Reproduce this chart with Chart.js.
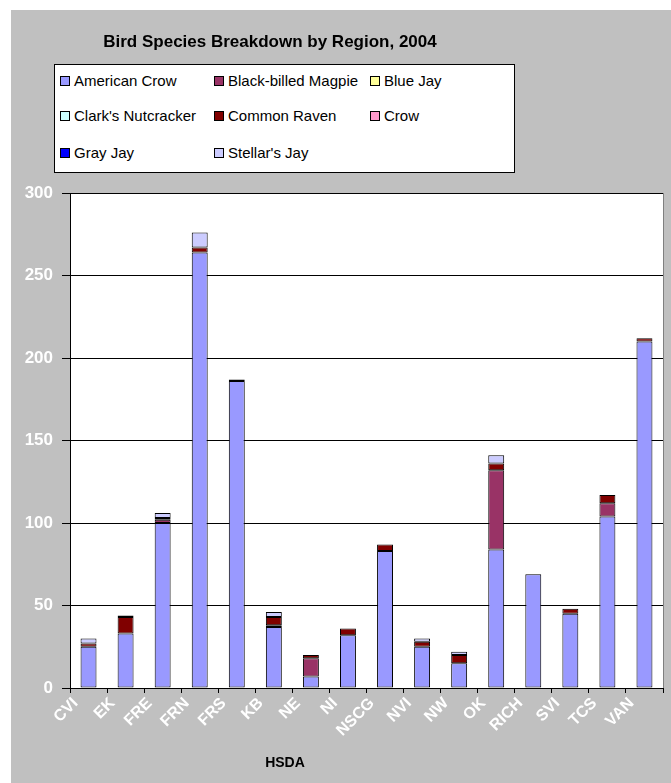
<!DOCTYPE html>
<html>
<head>
<meta charset="utf-8">
<script src="https://cdn.jsdelivr.net/npm/chart.js@4.4.1/dist/chart.umd.min.js"></script>
<style>
  body { margin: 0; background: #fff; font-family: "Liberation Sans", Arial, sans-serif; }
  #frame { position: absolute; left: 11px; top: 10px; width: 660px; height: 773px; background: #c0c0c0; }
  #birdChart { position: absolute; left: 0; top: 0; }
  #title { position: absolute; left: 0; width: 518px; top: 22px; text-align: center; font-weight: bold; font-size: 17px; color: #000; }
  #legend { position: absolute; left: 43px; top: 54px; width: 459px; height: 107px; background: #fff; border: 1px solid #000; }
  .item { position: absolute; font-size: 15px; color: #000; white-space: nowrap; line-height: 18px; }
  .item span.box { display: inline-block; width: 8px; height: 8px; border: 1px solid #000; margin-right: 4px; vertical-align: 0px; }
  #xtitle { position: absolute; left: 224px; width: 100px; top: 744px; text-align: center; font-weight: bold; font-size: 14px; color: #000; }
</style>
</head>
<body>
<div id="frame">
  <canvas id="birdChart" width="660" height="773"></canvas>
  <div id="title">Bird Species Breakdown by Region, 2004</div>
  <div id="legend"></div>
  <div id="xtitle">HSDA</div>
</div>
<script>
// Data
const regions = ['CVI', 'EK', 'FRE', 'FRN', 'FRS', 'KB', 'NE', 'NI', 'NSCG', 'NVI', 'NW', 'OK', 'RICH', 'SVI', 'TCS', 'VAN'];
const americanCrow = [25, 33, 100, 264, 186, 37, 7, 32, 83, 25, 15, 84, 69, 45, 104, 210];
const blackBilledMagpie = [0, 0, 2, 0, 0, 1, 11, 0, 0, 0, 0, 48, 0, 0, 8, 0];
const blueJay = [0, 0, 1, 0, 0, 0, 0, 0, 0, 0, 0, 0, 0, 0, 0, 0];
const clarksNutcracker = [0, 0, 0, 0, 0, 0, 0, 0, 0, 0, 0, 0, 0, 0, 0, 0];
const commonRaven = [2, 10, 0, 3, 1, 5, 2, 4, 4, 3, 5, 4, 0, 3, 5, 2];
const crow = [0, 0, 0, 0, 0, 0, 0, 0, 0, 0, 0, 0, 0, 0, 0, 0];
const grayJay = [0, 0, 0, 0, 0, 0, 0, 0, 0, 0, 0, 0, 0, 0, 0, 0];
const stellarsJay = [3, 1, 3, 9, 0, 3, 0, 0, 0, 2, 2, 5, 0, 0, 0, 0];
const yTicks = [0, 50, 100, 150, 200, 250, 300];

function series(label, data, color) {
  return {
    label: label,
    data: data,
    backgroundColor: color,
    borderColor: '#000',
    borderWidth: 1,
    borderSkipped: false
  };
}

const birdData = {
  labels: regions,
  datasets: [
    series('American Crow', americanCrow, '#9999ff'),
    series('Black-billed Magpie', blackBilledMagpie, '#993366'),
    series('Blue Jay', blueJay, '#ffff99'),
    series("Clark's Nutcracker", clarksNutcracker, '#ccffff'),
    series('Common Raven', commonRaven, '#800000'),
    series('Crow', crow, '#ff99cc'),
    series('Gray Jay', grayJay, '#0000ff'),
    series("Stellar's Jay", stellarsJay, '#ccccff')
  ]
};

// white plot area + grey right edge
const plotArea = {
  id: 'plotArea',
  beforeDraw(chart) {
    const a = chart.chartArea, ctx = chart.ctx;
    ctx.save();
    ctx.fillStyle = '#fff';
    ctx.fillRect(a.left, a.top, a.right - a.left, a.bottom - a.top);
    ctx.restore();
  },
  afterDraw(chart) {
    const a = chart.chartArea, ctx = chart.ctx;
    ctx.save();
    ctx.strokeStyle = '#808080';
    ctx.lineWidth = 1;
    ctx.beginPath();
    ctx.moveTo(a.right + 0.5, a.top);
    ctx.lineTo(a.right + 0.5, a.bottom);
    ctx.stroke();
    ctx.restore();
  }
};

const birdConfig = {
  type: 'bar',
  data: birdData,
  options: {
    responsive: false,
    animation: false,
    layout: { padding: { top: 183, right: 8, left: 0, bottom: 0 } },
    datasets: { bar: { categoryPercentage: 1, barPercentage: 0.43 } },
    plugins: {
      legend: { display: false },
      title: { display: false },
      tooltip: { enabled: false }
    },
    scales: {
      x: {
        stacked: true,
        afterFit: function(scale) { scale.height = 95; },
        border: { color: '#000', width: 1 },
        grid: { drawOnChartArea: false, color: '#000', tickLength: 5 },
        ticks: {
          color: '#fff',
          font: { family: 'Liberation Sans', size: 16, weight: 'bold' },
          minRotation: 45,
          maxRotation: 45,
          autoSkip: false,
          padding: 1,
          labelOffset: -13
        }
      },
      y: {
        stacked: true,
        min: 0,
        max: 300,
        afterFit: function(scale) { scale.width = 59; },
        afterBuildTicks: function(scale) { scale.ticks = yTicks.map(v => ({ value: v })); },
        border: { color: '#000', width: 1 },
        grid: { color: '#000', tickLength: 8 },
        ticks: {
          color: '#fff',
          padding: 9,
          font: { family: 'Liberation Sans', size: 17, weight: 'bold' }
        }
      }
    }
  },
  plugins: [plotArea]
};

var bird_area = document.getElementById('birdChart');
var myBirdChart = new Chart(bird_area, birdConfig);

// legend laid out in a 3-column grid like the original
const legendCols = [5, 159, 315];
const legendRows = [7, 42, 79];
var legendBox = document.getElementById('legend');
myBirdChart.data.datasets.forEach(function(ds, i) {
  var item = document.createElement('div');
  item.className = 'item';
  item.style.left = legendCols[i % 3] + 'px';
  item.style.top = legendRows[Math.floor(i / 3)] + 'px';
  var box = document.createElement('span');
  box.className = 'box';
  box.style.background = ds.backgroundColor;
  item.appendChild(box);
  item.appendChild(document.createTextNode(ds.label));
  legendBox.appendChild(item);
});
</script>
</body>
</html>
